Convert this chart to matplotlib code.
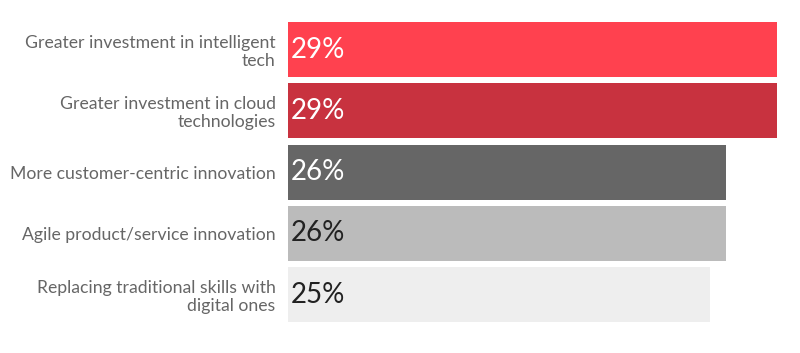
import matplotlib
matplotlib.use("Agg")
import matplotlib.pyplot as plt

categories = [
    "Greater investment in intelligent\ntech",
    "Greater investment in cloud\ntechnologies",
    "More customer-centric innovation",
    "Agile product/service innovation",
    "Replacing traditional skills with\ndigital ones",
]
values = [29, 29, 26, 26, 25]
bar_colors = ["#FF414F", "#C8323F", "#666666", "#BBBBBB", "#EEEEEE"]
text_colors = ["white", "white", "white", "#222222", "#222222"]

plt.rcParams["font.family"] = ["Lato", "DejaVu Sans"]

fig = plt.figure(figsize=(8, 3.53), dpi=100)
ax = fig.add_axes([0.36, 0.079, 0.61125, 0.867])

y = list(range(len(values)))
ax.barh(y, values, height=0.9, color=bar_colors)
ax.set_xlim(0, 29)
ax.set_ylim(4.5, -0.5)

for yi, v, tc in zip(y, values, text_colors):
    ax.text(0.15, yi, f"{v}%", color=tc, fontsize=20, va="center", ha="left")

ax.set_yticks(y)
ax.set_yticklabels(categories, fontsize=12.7, color="#666666", linespacing=1.15)
ax.tick_params(axis="y", length=0, pad=9)
ax.set_xticks([])
for s in ax.spines.values():
    s.set_visible(False)

fig.savefig("out.png", dpi=100)
